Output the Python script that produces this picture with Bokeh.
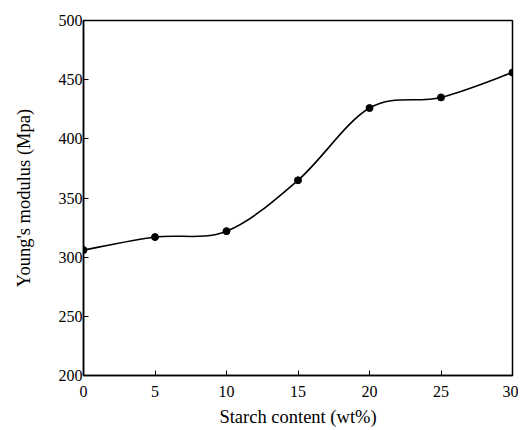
from bokeh.plotting import figure
from bokeh.models import Range1d, FixedTicker
from bokeh.embed import file_html
from bokeh.resources import INLINE

starch = [0, 5, 10, 15, 20, 25, 30]
modulus = [306, 317, 322, 365, 426, 435, 456]
x_ticks = [0, 5, 10, 15, 20, 25, 30]
y_ticks = [200, 250, 300, 350, 400, 450, 500]

FONT = "Liberation Serif"

p = figure(frame_width=429, frame_height=355, output_backend="svg",
           toolbar_location=None, x_range=Range1d(0, 30), y_range=Range1d(200, 500),
           min_border_left=83, min_border_top=20, min_border_right=6, min_border_bottom=40)
p.grid.visible = False
p.outline_line_color = "black"
p.outline_line_width = 1.5
p.background_fill_color = "white"
p.border_fill_color = "white"

# Smooth curve via Catmull-Rom Bezier segments built from the data points
n = len(starch)
x0, y0, x1, y1, cx0, cy0, cx1, cy1 = [], [], [], [], [], [], [], []
for i in range(n - 1):
    im = max(i - 1, 0)
    ip2 = min(i + 2, n - 1)
    x0.append(starch[i]); y0.append(modulus[i])
    x1.append(starch[i + 1]); y1.append(modulus[i + 1])
    cx0.append(starch[i] + (starch[i + 1] - starch[im]) / 6)
    cy0.append(modulus[i] + (modulus[i + 1] - modulus[im]) / 6)
    cx1.append(starch[i + 1] - (starch[ip2] - starch[i]) / 6)
    cy1.append(modulus[i + 1] - (modulus[ip2] - modulus[i]) / 6)

p.bezier(x0=x0, y0=y0, x1=x1, y1=y1, cx0=cx0, cy0=cy0, cx1=cx1, cy1=cy1,
         line_color="black", line_width=1.6)
p.scatter(starch, modulus, marker="circle", size=7, color="black")

for ax in (p.xaxis, p.yaxis):
    ax.axis_line_color = "black"
    ax.axis_line_width = 1.5
    ax.major_tick_in = 5
    ax.major_tick_out = 0
    ax.minor_tick_line_color = None
    ax.major_tick_line_color = "black"
    ax.major_label_text_font = FONT
    ax.major_label_text_font_size = "16px"
    ax.major_label_text_color = "black"
    ax.axis_label_text_font = FONT
    ax.axis_label_text_font_size = "18.5px"
    ax.axis_label_text_font_style = "normal"
    ax.axis_label_text_color = "black"

p.xaxis.ticker = FixedTicker(ticks=x_ticks)
p.yaxis.ticker = FixedTicker(ticks=y_ticks)
p.xaxis.axis_label = "Starch content (wt%)"
p.yaxis.axis_label = "Young's modulus (Mpa)"
p.xaxis.major_label_standoff = 10
p.yaxis.major_label_standoff = 1
p.xaxis.axis_label_standoff = 7
p.yaxis.axis_label_standoff = 22

open("out.html", "w").write(file_html(p, INLINE))
